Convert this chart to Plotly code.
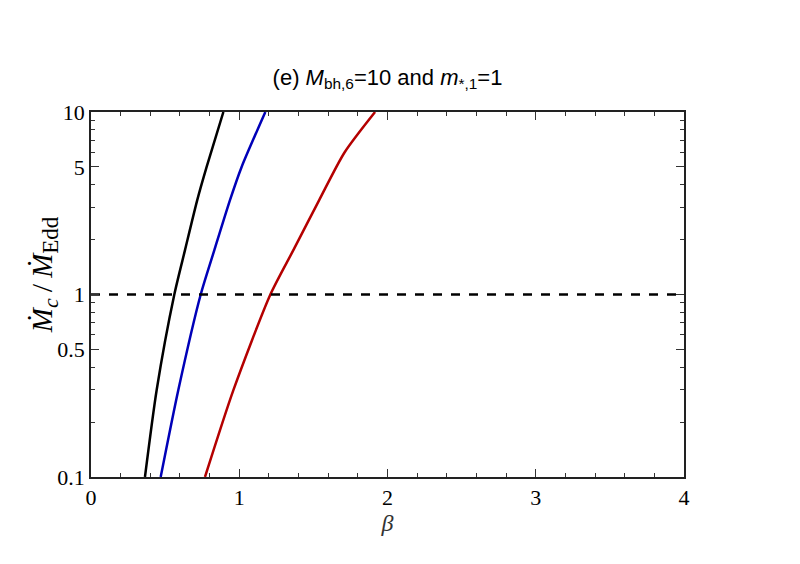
import plotly.graph_objects as go

# curves: beta where Mdot_c/Mdot_Edd reaches each level
black_y = [0.1, 0.3, 1.0, 1.75, 3.3, 5.0, 10.0]
black_beta = [0.364, 0.443, 0.562, 0.634, 0.717, 0.78, 0.893]

blue_y = [0.1, 0.3, 1.0, 1.75, 3.3, 5.0, 10.0]
blue_beta = [0.47, 0.589, 0.74, 0.832, 0.938, 1.016, 1.176]

red_y = [0.1, 0.3, 1.0, 1.75, 3.3, 6.0, 10.0]
red_beta = [0.769, 0.961, 1.21, 1.365, 1.54, 1.71, 1.916]

ref_beta = [0, 4]
ref_y = [1, 1]

x_ticks = [0, 1, 2, 3, 4]
y_ticks = [0.1, 0.5, 1, 5, 10]
y_ticktext = ["0.1", "0.5", "1", "5", "10"]
y_minor = [0.2, 0.3, 0.4, 0.6, 0.7, 0.8, 0.9, 2, 3, 4, 6, 7, 8, 9]

serif = "Liberation Serif, Times New Roman, serif"

fig = go.Figure()

for xs, ys, color in [(black_beta, black_y, "#000000"),
                      (blue_beta, blue_y, "#0000B8"),
                      (red_beta, red_y, "#B40000")]:
    fig.add_trace(go.Scatter(
        x=xs, y=ys, mode="lines",
        line=dict(color=color, width=2.5, shape="spline", smoothing=0.7),
        showlegend=False
    ))

fig.add_trace(go.Scatter(
    x=ref_beta, y=ref_y, mode="lines",
    line=dict(color="black", width=2.5, dash="dash"),
    showlegend=False
))

fig.update_xaxes(
    range=[0, 4], tickvals=x_ticks,
    ticks="inside", ticklen=8, tickwidth=1, tickcolor="#333",
    minor=dict(ticks="inside", dtick=0.2, ticklen=4, tickcolor="#333"),
    showline=True, linecolor="#222", linewidth=1.5, mirror="allticks",
    showgrid=False, zeroline=False,
    tickfont=dict(family=serif, size=22, color="black"),
    title=dict(text="<i>β</i>", font=dict(family=serif, size=24, color="#333"), standoff=0)
)

fig.update_yaxes(
    type="log", range=[-1, 1],
    tickvals=y_ticks, ticktext=y_ticktext,
    ticks="inside", ticklen=8, tickwidth=1, tickcolor="#333",
    minor=dict(ticks="inside", tickvals=y_minor, ticklen=4, tickcolor="#333"),
    showline=True, linecolor="#222", linewidth=1.5, mirror="allticks",
    showgrid=False, zeroline=False,
    tickfont=dict(family=serif, size=22, color="black"),
)

# y-axis label as a rotated annotation (sits a little above the plot centre)
fig.add_annotation(
    text="<i>Ṁ</i><sub><i><span style='font-size:22px'>c</span></i></sub>"
         "<span style='font-size:30px'>\u2009/\u2009</span>"
         "<i>Ṁ</i><sub><span style='font-size:23px'>Edd</span></sub>",
    xref="paper", yref="paper", x=-0.078, y=0.555,
    xanchor="center", yanchor="middle", textangle=-90, showarrow=False,
    font=dict(family=serif, size=29, color="black")
)

fig.update_layout(
    width=800, height=564,
    paper_bgcolor="white", plot_bgcolor="white",
    margin=dict(l=83, r=124, t=104, b=95),
    title=dict(
        text="(e) <i>M</i><sub>bh,6</sub>=10 and <i>m</i><sub>*,1</sub>=1",
        x=0.5, xref="paper", xanchor="center", y=0.878, yanchor="middle",
        font=dict(family="Liberation Sans, Arial, sans-serif", size=22, color="black")
    )
)

fig.write_html("out.html")
